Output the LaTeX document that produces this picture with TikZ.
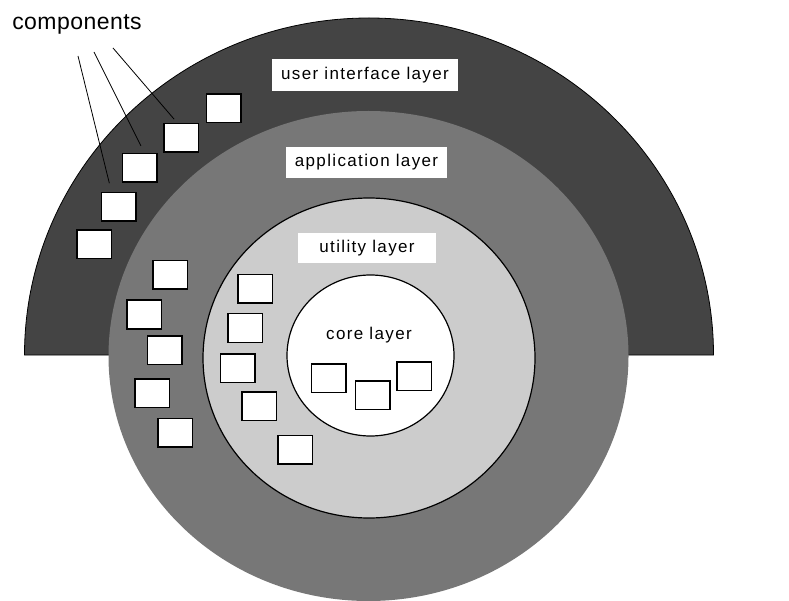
\documentclass[tikz,border=0pt]{standalone}
\usepackage{fontspec}
\usepackage{tikz}
\usetikzlibrary{calc}
\newfontfamily\labelfont[LetterSpace=8]{Liberation Sans}
\newfontfamily\calloutfont[LetterSpace=2]{Liberation Sans}
\definecolor{uigray}{HTML}{444444}
\definecolor{appgray}{HTML}{777777}
\definecolor{utilgray}{HTML}{CCCCCC}

\begin{document}
\begin{tikzpicture}[
  x=1pt, y=-1pt,
  comp/.style={draw=black, line width=1.5pt, fill=white, minimum width=34.5pt, minimum height=28.5pt, inner sep=0pt},
  layerlabel/.style={fill=white, inner sep=0pt, font=\labelfont\fontsize{17}{20}\selectfont},
  pointer/.style={draw=black, line width=0.8pt}
]
  \useasboundingbox (0,0) rectangle (789,601);

  % Layers
  \filldraw[fill=uigray, draw=black, line width=0.8pt] (24.5,355) arc[start angle=180, end angle=360, x radius=344.5, y radius=337] -- cycle;
  \fill[appgray] (368.5,356) ellipse[x radius=260, y radius=245];
  \filldraw[fill=utilgray, draw=black, line width=1.2pt] (369,358) ellipse[x radius=166, y radius=160];
  \filldraw[fill=white, draw=black, line width=1.2pt] (370.5,355.5) ellipse[x radius=83.5, y radius=80.5];

  % Layer labels
  \node[layerlabel, minimum width=186pt, minimum height=32pt] (uilabel) at (365,75) {user interface layer};
  \node[layerlabel, minimum width=161pt, minimum height=31pt] (applabel) at (366.5,162.5) {application layer};
  \node[layerlabel, minimum width=138pt, minimum height=30pt] (utillabel) at (367,248) {utility layer};
  \node[layerlabel, fill=none] (corelabel) at (369,335) {core layer};

  % User interface components
  \node[comp] (b1) at (223.5,108.5) {};
  \node[comp] (b2) at (181,138) {};
  \node[comp] (b3) at (139.5,168) {};
  \node[comp] (b4) at (118.5,207) {};
  \node[comp] (b5) at (94,244.5) {};

  % Application components
  \node[comp] (a1) at (170,275) {};
  \node[comp] (a2) at (144,314.5) {};
  \node[comp] (a3) at (164.5,350) {};
  \node[comp] (a4) at (152,393) {};
  \node[comp] (a5) at (175,432.5) {};

  % Utility components
  \node[comp] (u1) at (255,289) {};
  \node[comp] (u2) at (245,328) {};
  \node[comp] (u3) at (237.5,368) {};
  \node[comp] (u4) at (259,406) {};
  \node[comp] (u5) at (295,449.5) {};

  % Core components
  \node[comp] (c1) at (328.5,378) {};
  \node[comp] (c2) at (372.5,395) {};
  \node[comp] (c3) at (414,376) {};

  % Callout
  \node[inner sep=0pt, font=\calloutfont\fontsize{23}{26}\selectfont] (complabel) at (77,24) {components};
  \coordinate (cp1) at (78,56);
  \coordinate (cp2) at (94,52);
  \coordinate (cp3) at (113,48);
  \foreach \s/\t/\dx/\sh in {cp1/b4/-7/9, cp2/b3/5/8, cp3/b2/-3.6/5} {
    \draw[pointer, shorten >=\sh pt] (\s) -- ([xshift=\dx pt]\t.north);
  }
\end{tikzpicture}
\end{document}
